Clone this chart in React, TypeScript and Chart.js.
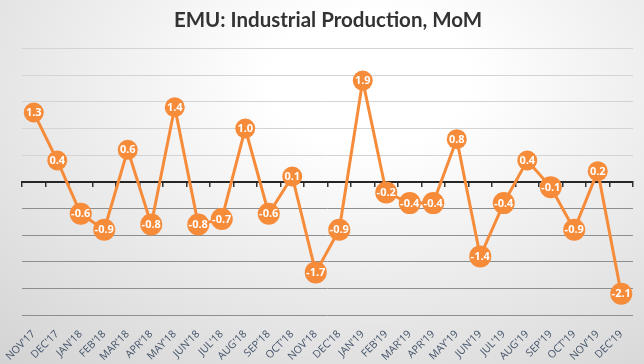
import { useEffect, useRef } from "react";
import { Chart, registerables } from "chart.js";

Chart.register(...registerables);

const titleText = "EMU: Industrial Production, MoM";

const categories = [
  "NOV'17", "DEC'17",
  "JAN'18", "FEB'18", "MAR'18", "APR'18", "MAY'18", "JUN'18",
  "JUL'18", "AUG'18", "SEP'18", "OCT'18", "NOV'18", "DEC'18",
  "JAN'19", "FEB'19", "MAR'19", "APR'19", "MAY'19", "JUN'19",
  "JUL'19", "AUG'19", "SEP'19", "OCT'19", "NOV'19", "DEC'19",
];

const momValues = [
  1.3, 0.4,
  -0.6, -0.9, 0.6, -0.8, 1.4, -0.8,
  -0.7, 1.0, -0.6, 0.1, -1.7, -0.9,
  1.9, -0.2, -0.4, -0.4, 0.8, -1.4,
  -0.4, 0.4, -0.1, -0.9, 0.2, -2.1,
];

const yMin = -2.5;
const yMax = 2.5;
const yStep = 0.5;

const ORANGE = "#F68B3A";

export default function App() {
  const ref = useRef<HTMLCanvasElement | null>(null);

  useEffect(() => {
    if (!ref.current) return;

    const bgPlugin = {
      id: "bgGradient",
      beforeDraw(chart: any) {
        const { ctx, width, height } = chart;
        ctx.save();
        ctx.translate(370, 80);
        ctx.scale(1, 1 / 1.5);
        const g = ctx.createRadialGradient(0, 0, 0, 0, 0, 620);
        g.addColorStop(0, "#ffffff");
        g.addColorStop(100 / 620, "#ffffff");
        g.addColorStop(564 / 620, "#d3d3d3");
        g.addColorStop(1, "#cfcfcf");
        ctx.fillStyle = g;
        ctx.fillRect(-2000, -2000, 4000 + width, 4000 + height);
        ctx.restore();
      },
    };

    const labelPlugin = {
      id: "pointLabels",
      afterDatasetsDraw(chart: any) {
        const { ctx } = chart;
        const meta = chart.getDatasetMeta(0);
        ctx.save();
        ctx.fillStyle = "#ffffff";
        ctx.font = "bold 11px 'Open Sans'";
        ctx.textAlign = "center";
        ctx.textBaseline = "middle";
        meta.data.forEach((pt: any, i: number) => {
          ctx.fillText(momValues[i].toFixed(1), pt.x, pt.y + 0.5);
        });
        ctx.restore();
      },
    };

    const chart = new Chart(ref.current, {
      type: "line",
      data: {
        labels: categories,
        datasets: [
          {
            data: momValues,
            borderColor: ORANGE,
            backgroundColor: ORANGE,
            borderWidth: 3,
            tension: 0,
            pointRadius: (c: any) => (momValues[c.dataIndex] < 0 ? 11 : 10),
            pointBackgroundColor: ORANGE,
            pointBorderWidth: 0,
            pointHoverRadius: 10,
            clip: false as any,
          },
        ],
      },
      options: {
        responsive: false,
        animation: false,
        events: [],
        layout: { padding: { left: 22, right: 10, top: 0, bottom: 0 } },
        plugins: {
          legend: { display: false },
          tooltip: { enabled: false },
          title: {
            display: true,
            text: titleText,
            color: "#333333",
            font: { family: "Lato", size: 20.5, weight: "bold" },
            padding: { top: 8, bottom: 16 },
          },
        },
        scales: {
          x: {
            type: "category",
            offset: true,
            position: "bottom",
            grid: { display: false, drawTicks: false },
            border: { display: false },
            ticks: {
              color: "#44546A",
              font: { family: "Open Sans", size: 10.5 },
              minRotation: 45,
              maxRotation: 45,
              autoSkip: false,
              padding: 13,
            },
            afterFit: (scale: any) => {
              scale.height = 49;
              scale.paddingLeft = 0;
              scale.paddingRight = 0;
            },
          },
          x0: {
            type: "category",
            labels: categories,
            offset: true,
            position: { y: 0 } as any,
            grid: {
              display: true,
              drawOnChartArea: false,
              drawTicks: true,
              tickLength: 4,
              color: "#333333",
              lineWidth: 1.5,
              offset: true,
            },
            border: { display: true, color: "#262626", width: 2 },
            ticks: { display: false },
          },
          y: {
            min: yMin,
            max: yMax,
            ticks: { display: false, stepSize: yStep },
            border: { display: false },
            grid: {
              drawTicks: false,
              lineWidth: 1,
              color: (c: any) =>
                c.tick.value > 0
                  ? "#d4d4d4"
                  : c.tick.value < 0
                  ? "#8e8e8e"
                  : "rgba(0,0,0,0)",
            },
          },
        },
      },
      plugins: [bgPlugin, labelPlugin],
    } as any);

    return () => chart.destroy();
  }, []);

  return (
    <div style={{ position: "fixed", left: 0, top: 0, width: 644, height: 364 }}>
      <canvas ref={ref} width={644} height={364} style={{ display: "block" }} />
    </div>
  );
}
